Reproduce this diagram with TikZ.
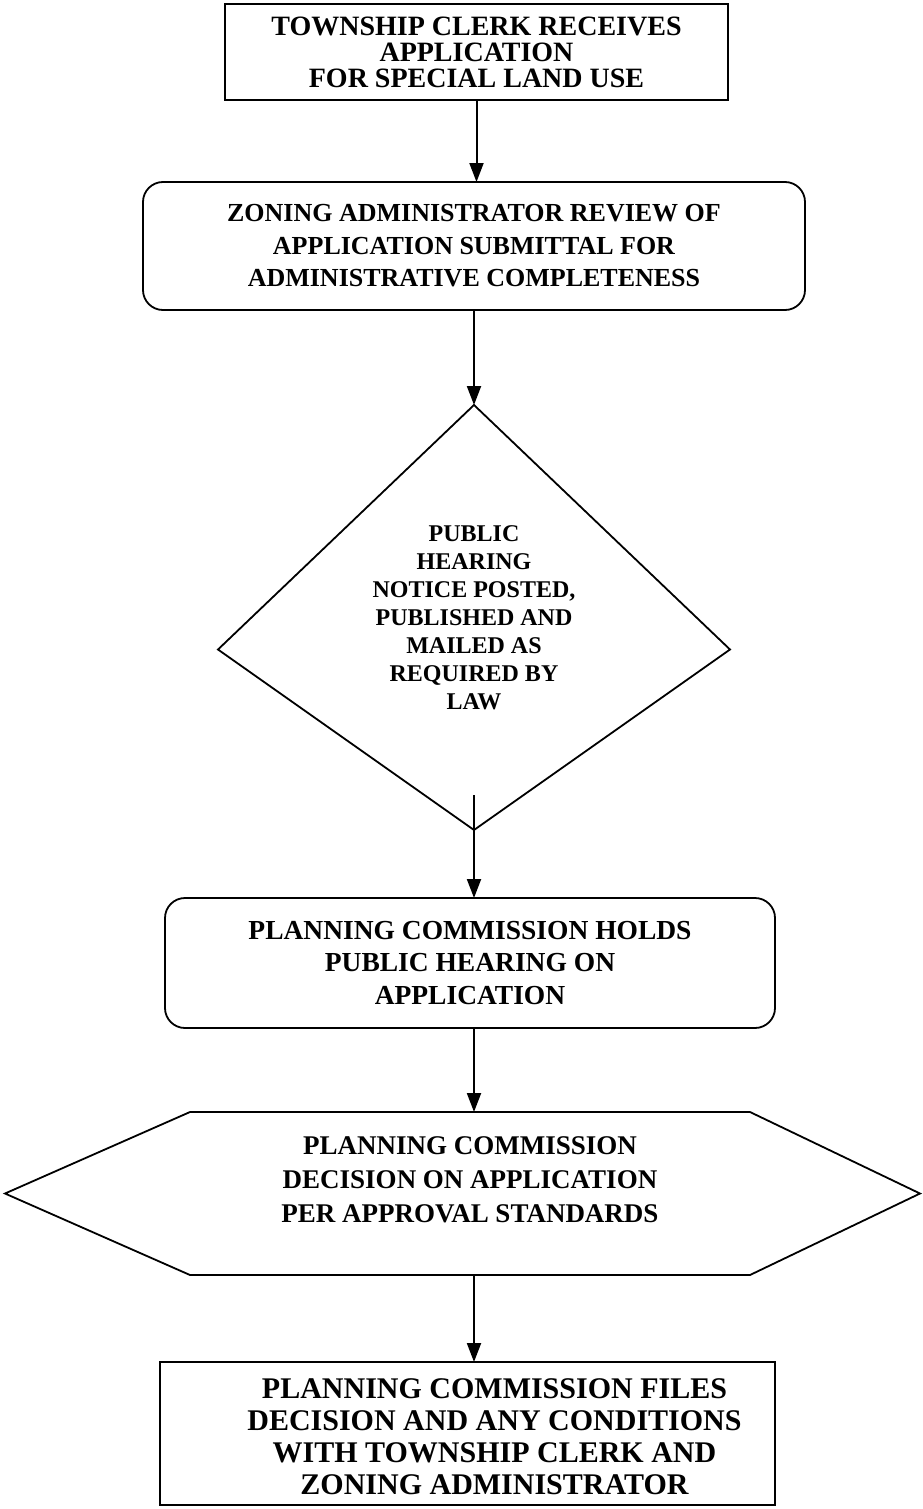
\documentclass[tikz,border=0pt]{standalone}
\usepackage{fontspec}
\setmainfont{Liberation Serif}
\usetikzlibrary{positioning, shapes.geometric, arrows.meta}
\tikzset{
>={Triangle[length=9.5pt,width=7pt]}, % filled heads like the scan
every node/.style={outer sep=0pt, inner sep=0pt, align=center}, % anchors sit on the outline
stepbox/.style={draw, line width=0.9pt, font=\bfseries\fontsize{13}{16.25}\selectfont}, % plain box
roundbox/.style={stepbox, rounded corners=10pt}, % rounded box
notice/.style={diamond, font=\bfseries\fontsize{12}{14}\selectfont}, % the diamond, outline drawn below
outline/.style={line width=0.9pt}, % hand drawn outlines
flow/.style={->, line width=1pt}, % connecting arrows
}
\begin{document}
\begin{tikzpicture}
\useasboundingbox (0,0) rectangle (461pt,-754.5pt);
\node[stepbox, minimum width=251.5pt, minimum height=48pt, font=\bfseries\fontsize{14}{13}\selectfont] (clerk) at (238.25pt,-26pt)
    {TOWNSHIP CLERK RECEIVES\\APPLICATION\\FOR SPECIAL LAND USE};
\node[roundbox, minimum width=331pt, minimum height=64pt, below=41pt of clerk, xshift=-1.25pt] (zoning)
    {ZONING ADMINISTRATOR REVIEW OF\\APPLICATION SUBMITTAL FOR\\ADMINISTRATIVE COMPLETENESS};
\node[notice, minimum width=256pt, minimum height=212.5pt, below=47.5pt of zoning] (hearing)
    {PUBLIC\\HEARING\\NOTICE POSTED,\\PUBLISHED AND\\MAILED AS\\REQUIRED BY\\LAW};
\node[roundbox, minimum width=305pt, minimum height=65pt, below=34pt of hearing, xshift=-2pt, font=\bfseries\fontsize{13.75}{16.25}\selectfont] (holds)
    {PLANNING COMMISSION HOLDS\\PUBLIC HEARING ON\\APPLICATION};
\node[minimum width=280pt, minimum height=81.5pt, below=42pt of holds,
    label={[yshift=6.75pt, font=\bfseries\fontsize{13.5}{17}\selectfont]center:{PLANNING COMMISSION\\DECISION ON APPLICATION\\PER APPROVAL STANDARDS}}] (decision) {};
\node[draw, line width=0.9pt, minimum width=307.5pt, minimum height=71.5pt, below=43.5pt of decision, xshift=-1.25pt,
    label={[xshift=13.5pt, yshift=-1.5pt, font=\bfseries\fontsize{15}{16}\selectfont]center:{PLANNING COMMISSION FILES\\DECISION AND ANY CONDITIONS\\WITH TOWNSHIP CLERK AND\\ZONING ADMINISTRATOR}}] (files) {};

% diamond, side corners sit a little low
\draw[outline] (hearing.north) -- ([yshift=-16pt]hearing.east) -- (hearing.south) -- ([yshift=-16pt]hearing.west) -- cycle;
% hexagon round the decision
\draw[outline] (decision.north west) -- (decision.north east) -- ([xshift=85pt]decision.east)
    -- (decision.south east) -- (decision.south west) -- ([xshift=-92.5pt]decision.west) -- cycle;

\draw[flow] (clerk.south) -- (clerk.south |- zoning.north);
\draw[flow] (zoning.south) -- (zoning.south |- hearing.north);
\draw[flow] ([yshift=17.5pt]hearing.south) -- (hearing.south |- holds.north);
\draw[flow] (holds.south -| hearing.south) -- (decision.north -| hearing.south);
\draw[flow] (decision.south -| hearing.south) -- (files.north -| hearing.south);
\end{tikzpicture}
\end{document}
